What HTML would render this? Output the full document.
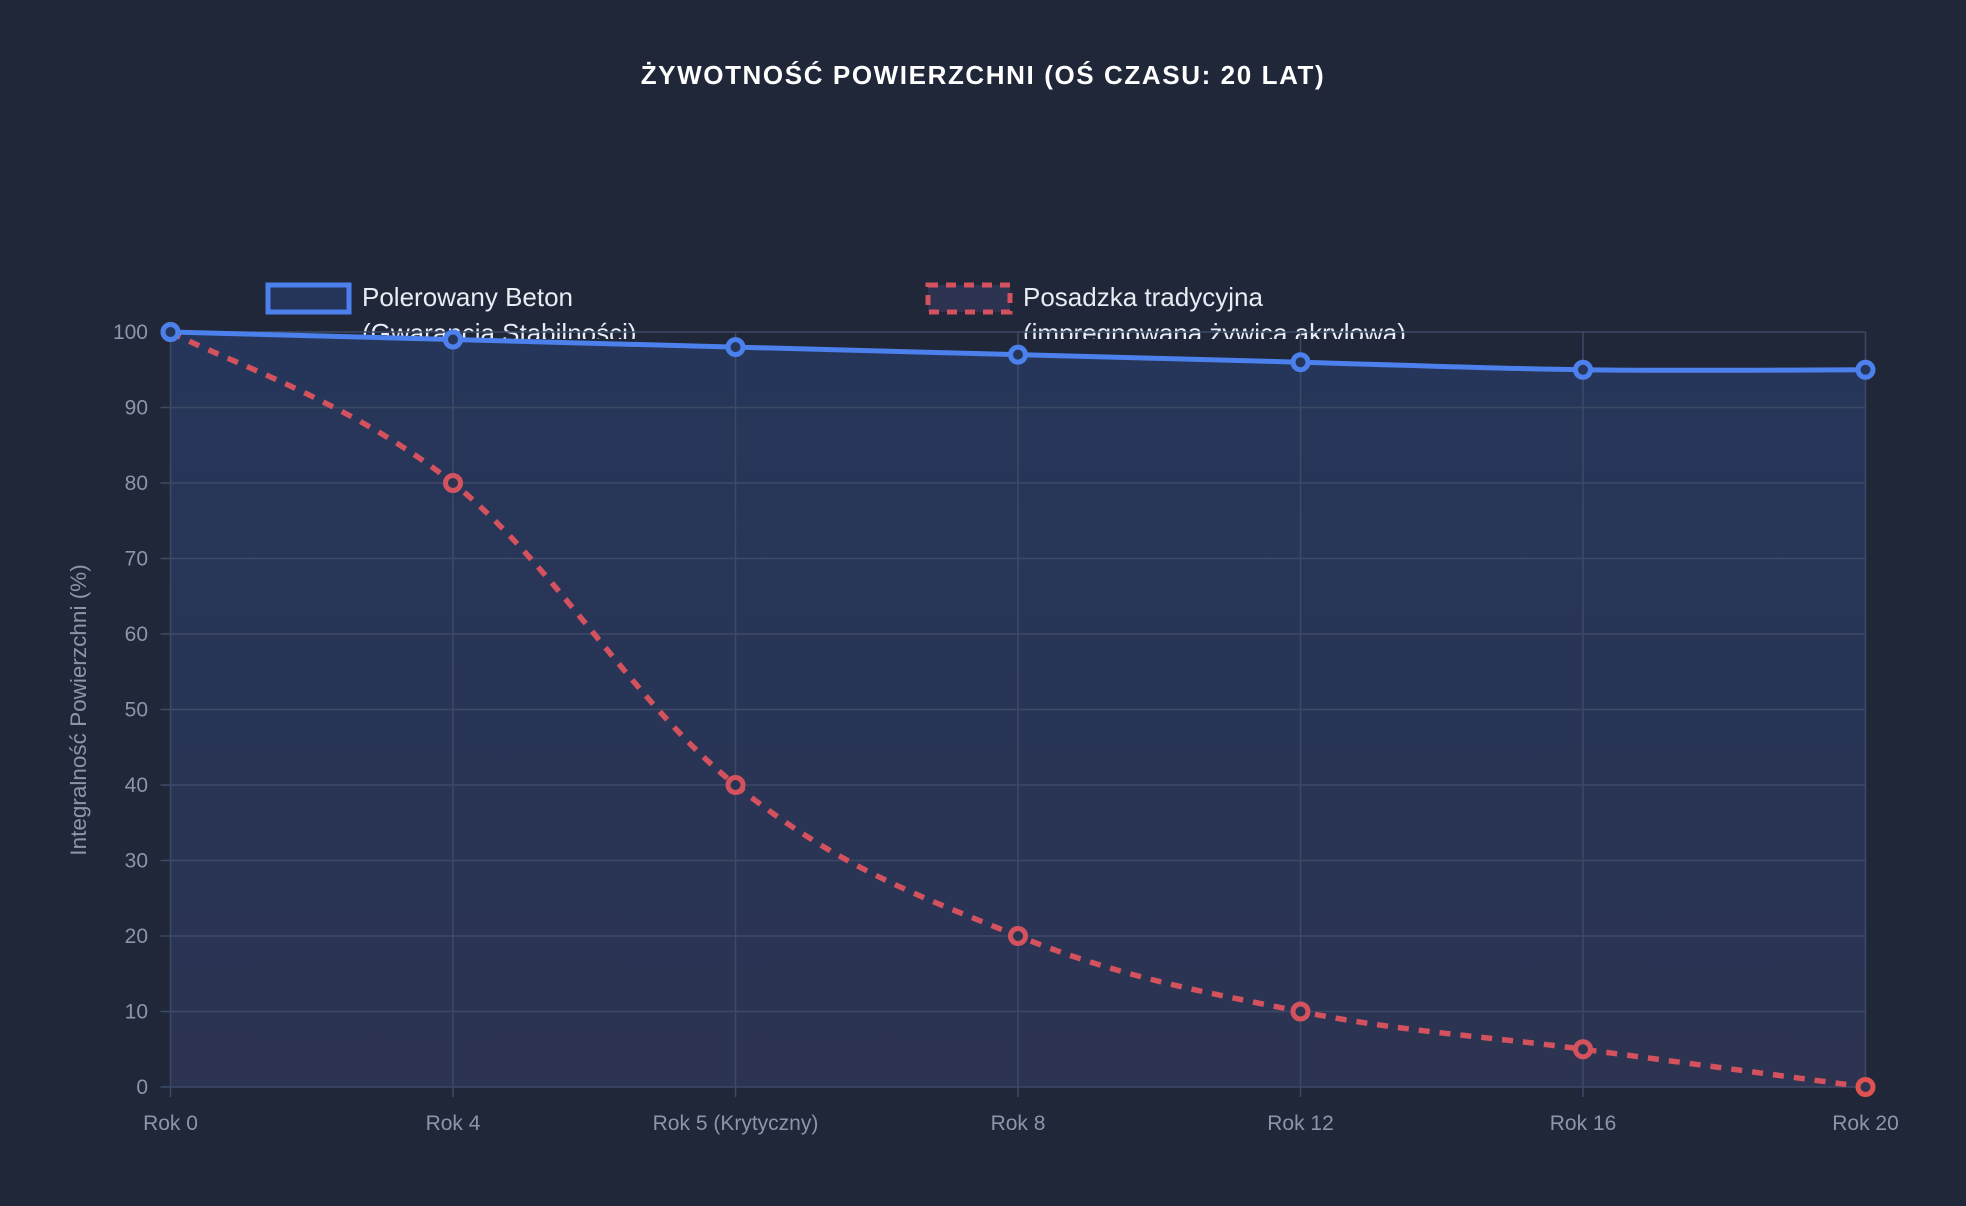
<!DOCTYPE html>
<html><head><meta charset="utf-8"><style>
html,body{margin:0;padding:0;background:#1f2739;}
svg{display:block;font-family:"Liberation Sans",sans-serif;}
</style></head><body>
<svg id="s" width="1966" height="1206" viewBox="0 0 1966 1206">
<rect width="1966" height="1206" fill="#1f2739"/>
<defs>
<linearGradient id="g" x1="0" y1="0" x2="0" y2="1"><stop offset="0" stop-color="#26365a"/><stop offset="1" stop-color="#2c3452"/></linearGradient>
<clipPath id="c"><rect x="0" y="300" width="1966" height="39"/></clipPath>
</defs>
<text x="983" y="84" text-anchor="middle" fill="#ffffff" font-size="26" font-weight="bold" letter-spacing="1.6">ŻYWOTNOŚĆ POWIERZCHNI (OŚ CZASU: 20 LAT)</text>
<g clip-path="url(#c)">
<text x="362" y="342" fill="#e8ecf4" font-size="26">(Gwarancja Stabilności)</text>
<text x="1023" y="342" fill="#e8ecf4" font-size="26">(impregnowana żywica akrylowa)</text>
</g>
<path id="fillb" fill="url(#g)"/>
<g id="grid" stroke="#3d4a66" stroke-width="1.5"></g>
<g id="lab" fill="#8b96ab" font-size="21"></g>
<text transform="translate(86,710) rotate(-90)" text-anchor="middle" fill="#8b96ab" font-size="22.5">Integralność Powierzchni (%)</text>
<path id="red" fill="none" stroke="#d4525e" stroke-width="5.5" stroke-dasharray="11,10"/>
<path id="blue" fill="none" stroke="#4c80ec" stroke-width="5"/>
<g id="pts"></g>
<rect x="268" y="285" width="81" height="27" fill="#25355a" stroke="#4c80ec" stroke-width="5"/>
<text x="362" y="306" fill="#e8ecf4" font-size="26">Polerowany Beton</text>
<rect x="928" y="285" width="82" height="27" fill="#2c3452" stroke="#d4525e" stroke-width="5" stroke-dasharray="10,8"/>
<text x="1023" y="306" fill="#e8ecf4" font-size="26">Posadzka tradycyjna</text>
</svg>
<script>
var L=170.5,R=1865.5,T=332,B=1087,ns="http://www.w3.org/2000/svg";
function y(v){return B-(B-T)*v/100;}
var xs=[];for(var i=0;i<7;i++)xs.push(L+(R-L)*i/6);
var labs=["Rok 0","Rok 4","Rok 5 (Krytyczny)","Rok 8","Rok 12","Rok 16","Rok 20"];
var g=document.getElementById("grid"),lab=document.getElementById("lab");
function el(p,t,a,txt){var e=document.createElementNS(ns,t);for(var k in a)e.setAttribute(k,a[k]);if(txt)e.textContent=txt;p.appendChild(e);return e;}
for(var v=0;v<=100;v+=10){el(g,"line",{x1:L-10,x2:R,y1:y(v),y2:y(v)});el(lab,"text",{x:148,y:y(v)+7,"text-anchor":"end"},""+v);}
for(var i=0;i<7;i++){el(g,"line",{x1:xs[i],x2:xs[i],y1:T,y2:B+10});el(lab,"text",{x:xs[i],y:1130,"text-anchor":"middle"},labs[i]);}
function path(d){var p=d.map(function(v,i){return[xs[i],y(v)]});var s="M"+p[0][0]+","+p[0][1];
for(var i=0;i<p.length-1;i++){var p0=p[Math.max(i-1,0)],p1=p[i],p2=p[i+1],p3=p[Math.min(i+2,p.length-1)];
var c1=[p1[0]+(p2[0]-p0[0])*0.18,p1[1]+(p2[1]-p0[1])*0.18],c2=[p2[0]-(p3[0]-p1[0])*0.18,p2[1]-(p3[1]-p1[1])*0.18];
s+=" C"+c1+" "+c2+" "+p2;}return s;}
var bd=[100,99,98,97,96,95,95],rd=[100,80,40,20,10,5,0];
document.getElementById("blue").setAttribute("d",path(bd));
document.getElementById("red").setAttribute("d",path(rd));
document.getElementById("fillb").setAttribute("d",path(bd)+" L"+R+","+B+" L"+L+","+B+"Z");
var pts=document.getElementById("pts");
for(var i=0;i<7;i++){el(pts,"circle",{cx:xs[i],cy:y(rd[i]),r:7.5,fill:"#2c3452",stroke:i==6?"#e0524f":"#d4525e","stroke-width":5});}
for(var i=0;i<7;i++){el(pts,"circle",{cx:xs[i],cy:y(bd[i]),r:7.5,fill:"#26365a",stroke:"#4c80ec","stroke-width":5});}
</script>
</body></html>
